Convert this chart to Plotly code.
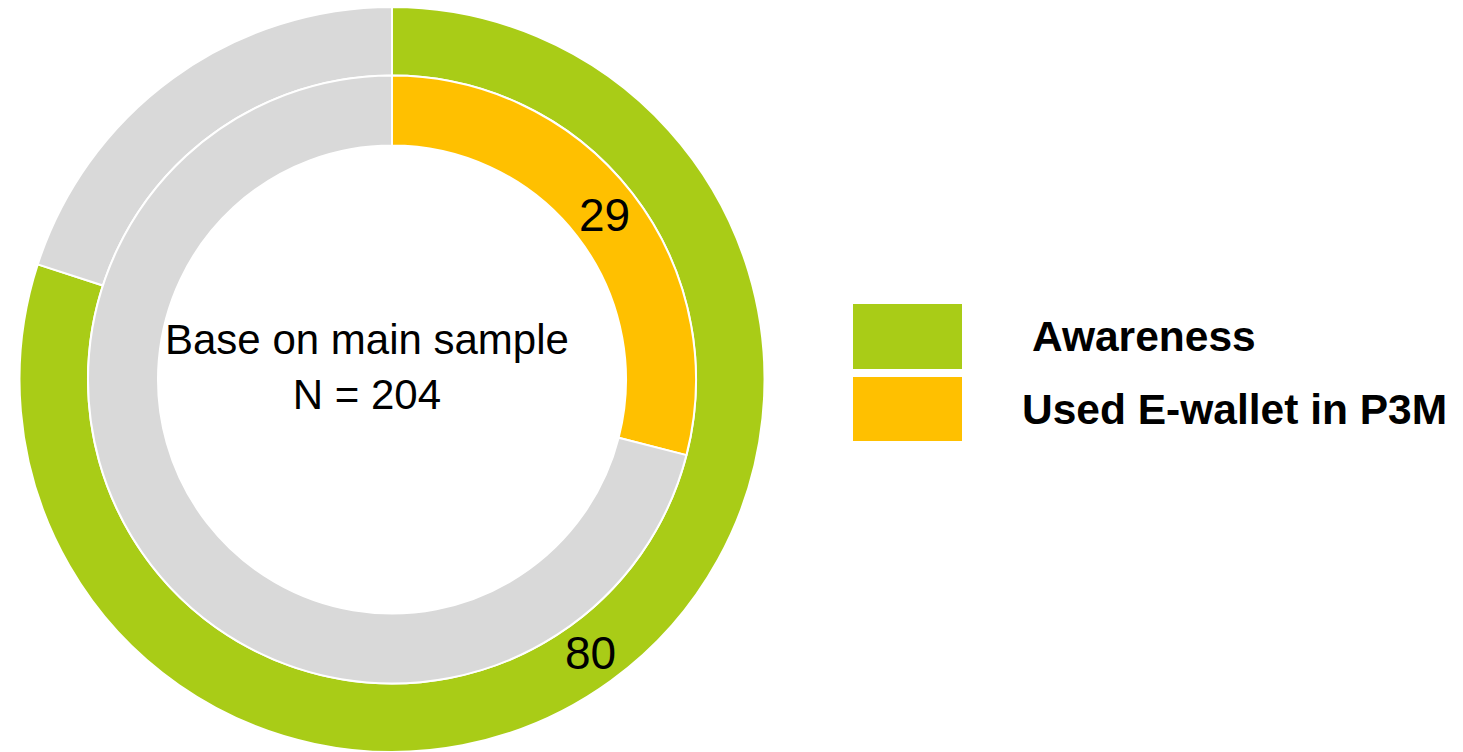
import math
import plotly.graph_objects as go

W, H = 1463, 752

# Shares of the main sample (percent)
series_names = ["Awareness", "Used E-wallet in P3M"]
series_values = [80, 29]
series_colors = ["#A9CC17", "#FFC000"]
rest_color = "#D9D9D9"
base_text = ["Base on main sample", "N = 204"]

# Ring geometry in pixels
cx, cy = 392, 379.5
r_outer, r_mid, r_inner = 372.5, 304, 234


def px_domain(r):
    return dict(x=[(cx - r) / W, (cx + r) / W],
                y=[max(0, 1 - (cy + r) / H), 1 - (cy - r) / H])


fig = go.Figure()
rings = [(r_outer, r_mid), (r_mid, r_inner)]
for (ro, ri), name, val, col in zip(rings, series_names, series_values, series_colors):
    fig.add_trace(go.Pie(
        values=[val, 100 - val],
        labels=[name, "Other"],
        marker=dict(colors=[col, rest_color], line=dict(color="white", width=2)),
        hole=ri / ro,
        domain=px_domain(ro),
        sort=False,
        direction="clockwise",
        rotation=0,
        textinfo="none",
        hoverinfo="skip",
        showlegend=False,
    ))

annotations = []
# Value labels at the middle of each coloured slice
for (ro, ri), val in zip(rings, series_values):
    theta = math.radians(val / 100 * 360 / 2)
    rm = (ro + ri) / 2
    x = cx + rm * math.sin(theta)
    y = cy - rm * math.cos(theta)
    annotations.append(dict(
        x=x / W, y=1 - y / H, xref="paper", yref="paper",
        text=str(val), showarrow=False,
        font=dict(family="Liberation Sans, Arial", size=46, color="black"),
        xanchor="center", yanchor="middle",
    ))

# Centre caption
annotations.append(dict(
    x=367 / W, y=1 - 367 / H, xref="paper", yref="paper",
    text="<br>".join(base_text), showarrow=False,
    font=dict(family="Liberation Sans, Arial", size=42, color="black"),
    xanchor="center", yanchor="middle", align="center",
))

# Legend: swatches and bold labels
shapes = []
legend_rows = [(304, 369, 1030), (377, 441, 1020)]
for (y0, y1, tx), name, col in zip(legend_rows, series_names, series_colors):
    shapes.append(dict(
        type="rect", xref="paper", yref="paper",
        x0=853 / W, x1=962 / W, y0=1 - y1 / H, y1=1 - y0 / H,
        fillcolor=col, line=dict(width=0),
    ))
    annotations.append(dict(
        x=tx / W, y=1 - ((y0 + y1) / 2) / H, xref="paper", yref="paper",
        text="<b>%s</b>" % name, showarrow=False,
        font=dict(family="Liberation Sans, Arial", size=42.5, color="black"),
        xanchor="left", yanchor="middle",
    ))

fig.update_layout(
    width=W, height=H,
    margin=dict(l=0, r=0, t=0, b=0),
    paper_bgcolor="white", plot_bgcolor="white",
    annotations=annotations, shapes=shapes,
    showlegend=False,
)

fig.write_html("out.html")
